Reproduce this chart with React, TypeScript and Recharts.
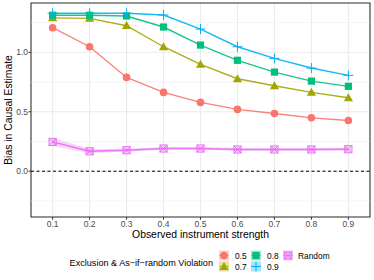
import React from 'react';
import { ComposedChart, Line, Area, XAxis, YAxis, CartesianGrid, ReferenceLine, ReferenceArea } from 'recharts';

const strengths = [0.1, 0.2, 0.3, 0.4, 0.5, 0.6, 0.7, 0.8, 0.9];
const xTicks = [0.1, 0.2, 0.3, 0.4, 0.5, 0.6, 0.7, 0.8, 0.9];
const yTicks = [0, 0.5, 1];
const yMinor = [-0.25, 0.25, 0.75, 1.25];

const bias05 = [1.207, 1.047, 0.789, 0.663, 0.579, 0.52, 0.486, 0.449, 0.427];
const bias07 = [1.29, 1.286, 1.224, 1.047, 0.899, 0.778, 0.719, 0.663, 0.618];
const bias08 = [1.312, 1.312, 1.306, 1.213, 1.061, 0.933, 0.834, 0.758, 0.714];
const bias09 = [1.329, 1.329, 1.329, 1.314, 1.196, 1.047, 0.949, 0.868, 0.806];
const biasRandom = [0.247, 0.168, 0.177, 0.191, 0.191, 0.183, 0.183, 0.183, 0.185];
const randomLow = [0.215, 0.152, 0.165, 0.18, 0.18, 0.172, 0.172, 0.172, 0.174];
const randomHigh = [0.282, 0.186, 0.19, 0.203, 0.203, 0.195, 0.195, 0.195, 0.197];

const series = [
  { key: 'b05', name: '0.5', color: '#F8766D', shape: 'circle' },
  { key: 'b07', name: '0.7', color: '#A3A500', shape: 'triangle' },
  { key: 'b08', name: '0.8', color: '#00BF7D', shape: 'square' },
  { key: 'b09', name: '0.9', color: '#00B0F6', shape: 'plus' },
  { key: 'rnd', name: 'Random', color: '#E76BF3', shape: 'squarecross' },
];

const data = strengths.map((s, i) => ({
  s,
  b05: bias05[i],
  b07: bias07[i],
  b08: bias08[i],
  b09: bias09[i],
  rnd: biasRandom[i],
  band: [randomLow[i], randomHigh[i]],
}));

const FONT = '"Liberation Sans", Arial, Helvetica, sans-serif';

function Marker({ shape, cx, cy, color }: any) {
  if (cx == null || cy == null) return null;
  switch (shape) {
    case 'circle':
      return <circle cx={cx} cy={cy} r={3.8} fill={color} />;
    case 'triangle':
      return <polygon points={`${cx},${cy - 4.6} ${cx - 4.6},${cy + 3.4} ${cx + 4.6},${cy + 3.4}`} fill={color} />;
    case 'square':
      return <rect x={cx - 3.6} y={cy - 3.6} width={7.2} height={7.2} fill={color} />;
    case 'plus':
      return (
        <g stroke={color} strokeWidth={1}>
          <line x1={cx - 5} y1={cy} x2={cx + 5} y2={cy} />
          <line x1={cx} y1={cy - 5} x2={cx} y2={cy + 5} />
        </g>
      );
    default:
      return (
        <g stroke={color} strokeWidth={0.9} fill="none">
          <rect x={cx - 3.6} y={cy - 3.6} width={7.2} height={7.2} fill={color} fillOpacity={0.25} />
          <line x1={cx - 3.6} y1={cy - 3.6} x2={cx + 3.6} y2={cy + 3.6} />
          <line x1={cx - 3.6} y1={cy + 3.6} x2={cx + 3.6} y2={cy - 3.6} />
        </g>
      );
  }
}

const makeDot = (shape: string, color: string) => (p: any) =>
  <Marker key={`${shape}-${p.index}`} shape={shape} cx={p.cx} cy={p.cy} color={color} />;

function LegendOverlay() {
  const cols = [
    { keyX: 219, labelX: 235, items: [series[0], series[1]] },
    { keyX: 251, labelX: 267, items: [series[2], series[3]] },
    { keyX: 283, labelX: 298, items: [series[4]] },
  ];
  const rowTop = [250.5, 261.5];
  return (
    <svg width={374} height={280} style={{ position: 'absolute', left: 0, top: 0, pointerEvents: 'none' }}>
      <text x={213} y={262.5} textAnchor="end" dominantBaseline="central" fontSize={9.1} fontFamily={FONT} fill="#000">
        Exclusion &amp; As−if−random Violation
      </text>
      {cols.map((c, ci) =>
        c.items.map((s, ri) => (
          <g key={`${ci}-${ri}`}>
            <rect x={c.keyX} y={rowTop[ri]} width={10} height={10} fill={s.color} fillOpacity={0.35} />
            <line x1={c.keyX} x2={c.keyX + 10} y1={rowTop[ri] + 5} y2={rowTop[ri] + 5} stroke={s.color} strokeWidth={1} strokeOpacity={0.6} />
            <Marker shape={s.shape} cx={c.keyX + 5} cy={rowTop[ri] + 5} color={s.color} />
            <text x={c.labelX} y={rowTop[ri] + 5.3} dominantBaseline="central" fontSize={8.4} fontFamily={FONT} fill="#000">
              {s.name}
            </text>
          </g>
        ))
      )}
    </svg>
  );
}

export default function App() {
  return (
    <div style={{ position: 'absolute', left: 0, top: 0, width: 374, height: 280, background: '#fff' }}>
      <ComposedChart width={374} height={280} data={data} margin={{ top: 3, right: 4, bottom: 23, left: 0 }}>
        <CartesianGrid stroke="#EBEBEB" strokeWidth={1.07} />
        {yMinor.map(v => (
          <ReferenceLine key={v} y={v} stroke="#EBEBEB" strokeWidth={0.55} />
        ))}
        <XAxis
          dataKey="s"
          type="number"
          domain={[0.0415, 0.9585]}
          ticks={xTicks}
          allowDataOverflow
          height={40}
          axisLine={false}
          tickLine={{ stroke: '#333333' }}
          tickSize={2.7}
          tickMargin={1.6}
          tick={{ fill: '#4D4D4D', fontSize: 8.5, fontFamily: FONT }}
          tickFormatter={(v: number) => v.toFixed(1)}
          label={{
            content: ({ viewBox }: any) => (
              <text x={viewBox.x + viewBox.width / 2} y={viewBox.y + 17.8} textAnchor="middle" dominantBaseline="central" fontSize={10.4} fontFamily={FONT} fill="#000">
                Observed instrument strength
              </text>
            ),
          }}
        />
        <YAxis
          type="number"
          domain={[-0.385, 1.415]}
          ticks={yTicks}
          allowDataOverflow
          width={31}
          axisLine={false}
          tickLine={{ stroke: '#333333' }}
          tickSize={2.5}
          tickMargin={0.5}
          tick={{ fill: '#4D4D4D', fontSize: 8.5, fontFamily: FONT }}
          tickFormatter={(v: number) => v.toFixed(1)}
          label={{
            content: ({ viewBox }: any) => {
              const x = viewBox.x + 8;
              const y = viewBox.y + viewBox.height / 2;
              return (
                <text x={x} y={y} transform={`rotate(-90 ${x} ${y})`} textAnchor="middle" dominantBaseline="central" fontSize={10.4} fontFamily={FONT} fill="#000">
                  Bias in Causal Estimate
                </text>
              );
            },
          }}
        />
        <ReferenceLine y={0} stroke="#000" strokeWidth={1} strokeDasharray="3 2.5" />
        <Area type="linear" dataKey="band" stroke="none" fill="#E76BF3" fillOpacity={0.3} isAnimationActive={false} />
        {series.map(s => (
          <Line
            key={s.key}
            type="linear"
            dataKey={s.key}
            stroke={s.color}
            strokeWidth={1.4}
            strokeOpacity={0.9}
            dot={makeDot(s.shape, s.color)}
            activeDot={false}
            isAnimationActive={false}
          />
        ))}
        <ReferenceArea x1={0.0415} x2={0.9585} y1={-0.385} y2={1.415} fill="none" stroke="#333333" strokeWidth={1.07} ifOverflow="visible" />
      </ComposedChart>
      <LegendOverlay />
    </div>
  );
}
